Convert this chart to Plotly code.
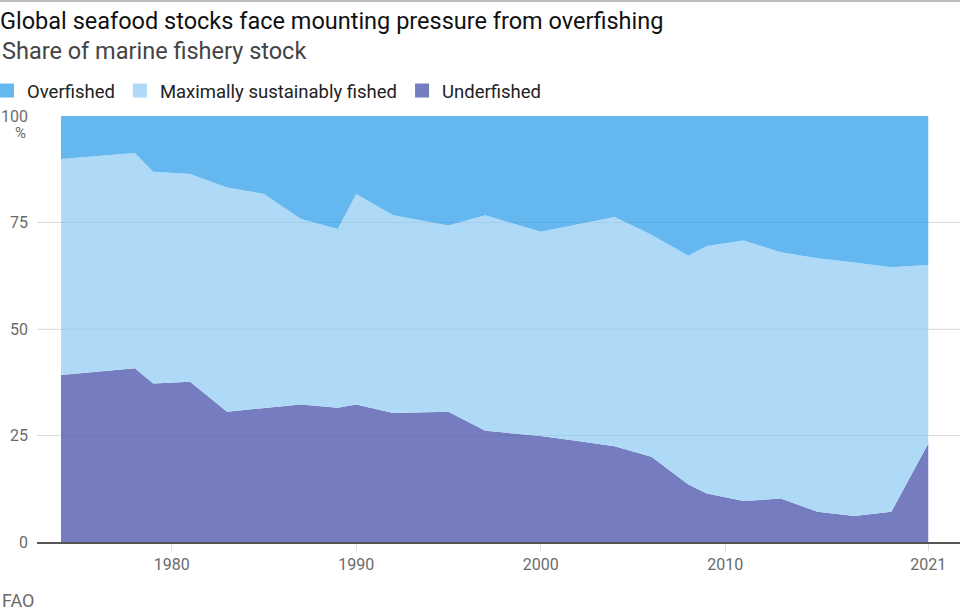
import plotly.graph_objects as go

# ---- data ----
years = [1974, 1976, 1978, 1979, 1981, 1983, 1985, 1987, 1989, 1990, 1992, 1995,
         1997, 2000, 2002, 2004, 2006, 2008, 2009, 2011, 2013, 2015, 2017, 2019, 2021]

underfished = [39.2, 40.0, 40.8, 37.2, 37.6, 30.6, 31.5, 32.3, 31.5, 32.3, 30.3, 30.6,
               26.1, 24.9, 23.7, 22.5, 20.0, 13.5, 11.4, 9.6, 10.2, 7.1, 6.1, 7.1, 23.1]

max_sustainable = [50.7, 50.6, 50.5, 49.7, 48.8, 52.6, 50.2, 43.5, 42.0, 49.4, 46.4, 43.7,
                   50.6, 47.9, 50.8, 53.8, 52.1, 53.7, 58.1, 61.2, 57.8, 59.5, 59.5, 57.4, 41.9]

overfished = [10.1, 9.4, 8.7, 13.1, 13.6, 16.8, 18.3, 24.2, 26.5, 18.3, 23.3, 25.7,
              23.3, 27.2, 25.5, 23.7, 27.9, 32.8, 30.5, 29.2, 32.0, 33.4, 34.4, 35.5, 35.0]

series_names = ["Underfished", "Maximally sustainably fished", "Overfished"]
series_values = [underfished, max_sustainable, overfished]
series_colors = ["#757dc0", "#aedaf7", "#64b8ef"]

x_tickvals = [1980, 1990, 2000, 2010, 2021]
y_tickvals = [0, 25, 50, 75, 100]

title_text = "Global seafood stocks face mounting pressure from overfishing"
subtitle_text = "Share of marine fishery stock"
source_text = "FAO"

FONT = "Roboto"

fig = go.Figure()

for name, vals, col in zip(series_names, series_values, series_colors):
    fig.add_trace(go.Scatter(
        x=years, y=vals, name=name, stackgroup="one", mode="lines",
        line=dict(width=0, color=col), fillcolor=col, showlegend=False,
        hovertemplate="%{x}: %{y}%<extra>" + name + "</extra>",
    ))

# legend entries (square swatches), in reference order
for name, col in zip(series_names[::-1], series_colors[::-1]):
    fig.add_trace(go.Scatter(
        x=[None], y=[None], mode="markers", name=name,
        marker=dict(symbol="square", size=14, color=col), showlegend=True,
    ))

W, H = 960, 613
ml, mr, mt, mb = 37, 0, 116, 71
pw = W - ml - mr
ph = H - mt - mb


def px_x(p):
    return (p - ml) / pw


def px_y(p):
    return (H - mb - p) / ph


# faint gridlines over the fills
for v in [25, 50, 75]:
    fig.add_shape(type="line", xref="paper", yref="y", x0=0, x1=1, y0=v, y1=v,
                  line=dict(color="rgba(0,0,0,0.05)", width=1), layer="above")

# top border rule
fig.add_shape(type="line", xref="paper", yref="paper", x0=px_x(0), x1=px_x(W),
              y0=px_y(1), y1=px_y(1), line=dict(color="#bdbdbd", width=2))

fig.update_layout(
    width=W, height=H,
    margin=dict(l=ml, r=mr, t=mt, b=mb, pad=0, autoexpand=False),
    paper_bgcolor="white", plot_bgcolor="white",
    font=dict(family=FONT, color="#222"),
    title=dict(text=title_text, x=0, xref="container", xanchor="left",
               y=1 - 21 / H, yref="container", yanchor="middle",
               font=dict(family=FONT, size=23.5, color="#111")),
    legend=dict(orientation="h", x=px_x(-13), xanchor="left", y=px_y(91), yanchor="middle",
                traceorder="normal", font=dict(family=FONT, size=18.5, color="#222"),
                bgcolor="rgba(0,0,0,0)", itemwidth=30),
    xaxis=dict(range=[1972.70, 2022.72], tickvals=x_tickvals, ticks="outside", ticklen=7,
               tickcolor="#dddddd", showgrid=False, zeroline=False, showline=True,
               linecolor="#555555", linewidth=1.5, automargin=False,
               tickfont=dict(family=FONT, size=16, color="#6b6b6b")),
    yaxis=dict(range=[0, 100], tickvals=y_tickvals, ticks="", showgrid=True,
               gridcolor="#e6e6e6", gridwidth=1, zeroline=False, showline=False,
               ticklabelstandoff=8, automargin=False,
               tickfont=dict(family=FONT, size=16, color="#6b6b6b")),
    annotations=[
        dict(text=subtitle_text, xref="paper", yref="paper", x=px_x(0), y=px_y(51),
             xanchor="left", yanchor="middle", showarrow=False,
             font=dict(family=FONT, size=23.5, color="#444")),
        dict(text="%", xref="paper", yref="paper", x=px_x(28), y=px_y(133),
             xanchor="right", yanchor="middle", showarrow=False,
             font=dict(family=FONT, size=15, color="#6b6b6b")),
        dict(text=source_text, xref="paper", yref="paper", x=px_x(0), y=px_y(600),
             xanchor="left", yanchor="middle", showarrow=False,
             font=dict(family=FONT, size=18, color="#6b6b6b")),
    ],
)

fig.write_html("out.html")
